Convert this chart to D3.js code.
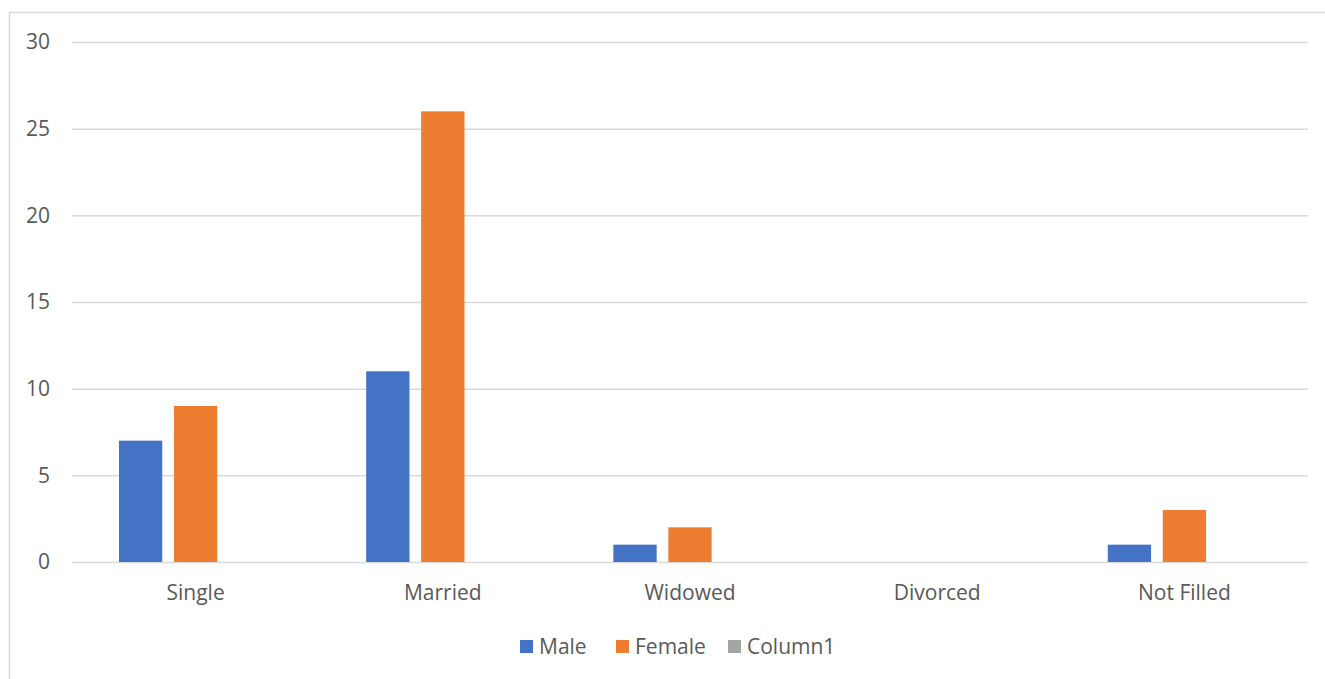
<!DOCTYPE html>
<html>
<head>
<meta charset="utf-8">
<script src="https://cdn.jsdelivr.net/npm/d3@7/dist/d3.min.js"></script>
<style>
  html, body { margin: 0; padding: 0; background: #fff; }
  svg { display: block; font-family: "Open Sans", "Noto Sans", sans-serif; }
</style>
</head>
<body>
<svg id="chart" width="1325" height="679"></svg>
<script>
// Marital status counts by sex
const categories = ["Single", "Married", "Widowed", "Divorced", "Not Filled"];
const seriesNames = ["Male", "Female", "Column1"];
const male    = [7, 11, 1, 0, 1];
const female  = [9, 26, 2, 0, 3];
const column1 = [0, 0, 0, 0, 0];
const yTicks  = [0, 5, 10, 15, 20, 25, 30];
const colors  = ["#4472C4", "#ED7D31", "#A5A5A5"];

const seriesValues = [male, female, column1];
const FONT = "\"Open Sans\", \"Noto Sans\", sans-serif";
const FONT_SIZE = "21px";

const svg = d3.select("#chart");
const W = 1325, H = 679;

// outer chart frame
svg.append("rect")
  .attr("x", 9.5).attr("y", 12.5)
  .attr("width", W + 20).attr("height", H + 20)
  .attr("fill", "#fff").attr("stroke", "#d9d9d9").attr("stroke-width", 1.5);

const plot = { left: 72, right: 1308, top: 42, bottom: 562 };

const x0 = d3.scaleBand()
  .domain(categories)
  .range([plot.left, plot.right])
  .paddingInner(0.38)
  .paddingOuter(0.19);

const x1 = d3.scaleBand()
  .domain(seriesNames)
  .range([0, x0.bandwidth()])
  .paddingInner(0.2126)
  .paddingOuter(0);

const y = d3.scaleLinear()
  .domain([0, 30])
  .range([plot.bottom, plot.top]);

// horizontal gridlines + value labels
const yAxis = d3.axisLeft(y).tickValues(yTicks).tickSize(-(plot.right - plot.left)).tickPadding(22);
const gy = svg.append("g").attr("transform", `translate(${plot.left},0)`).call(yAxis);
gy.select(".domain").remove();
gy.selectAll(".tick line").attr("stroke", "#d9d9d9").attr("stroke-width", 1.5);
gy.selectAll(".tick text")
  .attr("fill", "#595959")
  .style("font-size", FONT_SIZE)
  .style("font-family", FONT);

// bars
const groups = svg.append("g").selectAll("g")
  .data(categories)
  .join("g")
  .attr("transform", c => `translate(${x0(c)},0)`);

groups.selectAll("rect")
  .data((c, i) => seriesNames.map((s, j) => ({ s, j, v: seriesValues[j][i] })))
  .join("rect")
  .attr("x", d => x1(d.s))
  .attr("width", x1.bandwidth())
  .attr("y", d => y(d.v))
  .attr("height", d => y(0) - y(d.v))
  .attr("fill", d => colors[d.j]);

// category axis labels
const xAxis = d3.axisBottom(x0).tickSize(0).tickPadding(23);
const gx = svg.append("g").attr("transform", `translate(0,${plot.bottom})`).call(xAxis);
gx.select(".domain").remove();
gx.selectAll(".tick text")
  .attr("fill", "#595959")
  .style("font-size", FONT_SIZE)
  .style("font-family", FONT);

// legend
const legendX = [520, 616, 728];
const legend = svg.append("g");
seriesNames.forEach((name, j) => {
  const g = legend.append("g").attr("transform", `translate(${legendX[j]},640)`);
  g.append("rect").attr("width", 13).attr("height", 13).attr("fill", colors[j]);
  g.append("text")
    .attr("x", 19).attr("y", 6.5).attr("dy", "0.35em")
    .attr("fill", "#595959")
    .style("font-size", FONT_SIZE)
    .style("font-family", FONT)
    .text(name);
});
</script>
</body>
</html>
